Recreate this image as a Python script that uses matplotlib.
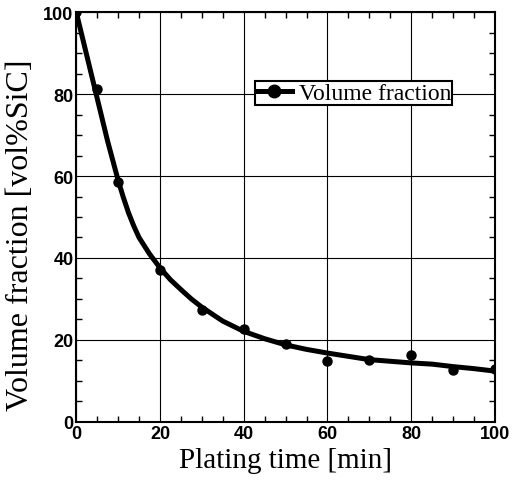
import matplotlib
matplotlib.use('Agg')
import matplotlib.pyplot as plt
from matplotlib.ticker import MultipleLocator

# measured points (plating time vs SiC volume fraction)
time_min = [0, 5, 10, 20, 30, 40, 50, 60, 70, 80, 90, 100]
vol_frac = [100, 81.2, 58.5, 37.0, 27.4, 22.7, 19.0, 14.9, 15.0, 16.3, 12.7, 12.8]

# fitted curve
curve_t = [0, 2.5, 5, 7.5, 10, 11.25, 12.5, 13.75, 15, 17.5, 20, 22.5, 25, 27.5,
           30, 35, 40, 45, 50, 55, 60, 65, 70, 75, 80, 85, 90, 95, 100]
curve_v = [100, 89.5, 79, 68.5, 59, 54.8, 51, 47.8, 45, 41, 37.6, 34.7, 32.3, 30,
           28, 24.6, 22.1, 20.3, 18.8, 17.7, 16.8, 16.0, 15.2, 14.8, 14.4, 14.1,
           13.5, 13.0, 12.4]

serif = 'Liberation Serif'
sans = 'Liberation Sans'

fig = plt.figure(figsize=(5.15, 4.85), dpi=100)
ax = fig.add_axes([0.148, 0.128, 0.813, 0.845])

ax.plot(curve_t, curve_v, color='black', lw=3.6,
        solid_capstyle='round', solid_joinstyle='round')
ax.plot(time_min, vol_frac, 'o', color='black', ms=6.5)

# legend proxy: line with marker
ax.plot([], [], color='black', lw=3.6, marker='o', ms=9, label='Volume fraction')
leg = ax.legend(loc='center', bbox_to_anchor=(0.663, 0.802), frameon=True,
                fancybox=False, edgecolor='black', framealpha=1,
                handlelength=1.5, handletextpad=0.3, borderpad=0.05,
                borderaxespad=0, prop={'family': serif, 'size': 17})
leg.get_frame().set_linewidth(1.5)

ax.set_xlim(0, 100)
ax.set_ylim(0, 100)
ax.xaxis.set_major_locator(MultipleLocator(20))
ax.yaxis.set_major_locator(MultipleLocator(20))
ax.xaxis.set_minor_locator(MultipleLocator(5))
ax.yaxis.set_minor_locator(MultipleLocator(5))
ax.grid(True, which='major', color='black', lw=0.8)
ax.tick_params(which='both', direction='in', top=True, right=True, width=1.0)
ax.tick_params(which='major', length=0, pad=2)
ax.tick_params(which='minor', length=4)
for sp in ax.spines.values():
    sp.set_linewidth(1.5)

for lab in ax.get_xticklabels() + ax.get_yticklabels():
    lab.set_fontfamily(sans)
    lab.set_fontweight('bold')
    lab.set_fontsize(13)

ax.set_xlabel('Plating time [min]', family=serif, fontsize=21, labelpad=4)
ax.set_ylabel('Volume fraction [vol%SiC]', family=serif, fontsize=23)
ax.yaxis.set_label_coords(-0.098, 0.459)

fig.savefig('out.png', dpi=100)
